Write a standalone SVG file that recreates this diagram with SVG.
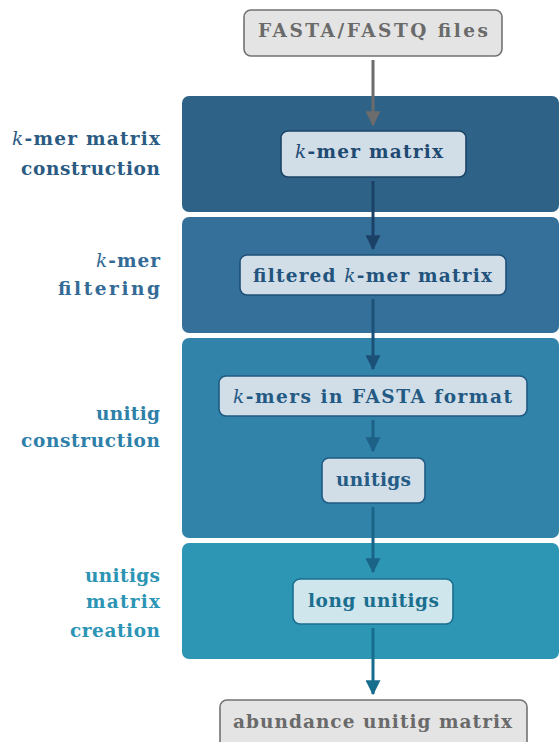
<svg xmlns="http://www.w3.org/2000/svg" width="559" height="742" viewBox="0 0 559 742">
  <style>
    text { font-family: "DejaVu Serif", "Liberation Serif", serif; font-weight: bold; font-size: 18.5px; }
    .k { font-style: italic; font-weight: normal; }
    .io rect { fill: #e4e4e4; stroke: #727272; stroke-width: 1.6; }
    .io text { fill: #6a6a6a; text-anchor: middle; }
    .box rect { fill: #d1dde7; stroke-width: 1.6; }
    .box text { text-anchor: middle; }
    .lbl { text-anchor: end; }
    .band { stroke: none; }
  </style>
  <defs>
    <marker id="ahGray" markerWidth="5" markerHeight="5" refX="4.6" refY="2.5" orient="auto" markerUnits="strokeWidth" viewBox="0 0 5 5">
      <path d="M0,0 L5,2.5 L0,5 Z" fill="#6c6c6c"/>
    </marker>
    <marker id="ah1" markerWidth="5" markerHeight="5" refX="4.6" refY="2.5" orient="auto" markerUnits="strokeWidth" viewBox="0 0 5 5">
      <path d="M0,0 L5,2.5 L0,5 Z" fill="#1b4266"/>
    </marker>
    <marker id="ah2" markerWidth="5" markerHeight="5" refX="4.6" refY="2.5" orient="auto" markerUnits="strokeWidth" viewBox="0 0 5 5">
      <path d="M0,0 L5,2.5 L0,5 Z" fill="#1c5177"/>
    </marker>
    <marker id="ah3" markerWidth="5" markerHeight="5" refX="4.6" refY="2.5" orient="auto" markerUnits="strokeWidth" viewBox="0 0 5 5">
      <path d="M0,0 L5,2.5 L0,5 Z" fill="#1d6187"/>
    </marker>
    <marker id="ah4" markerWidth="5" markerHeight="5" refX="4.6" refY="2.5" orient="auto" markerUnits="strokeWidth" viewBox="0 0 5 5">
      <path d="M0,0 L5,2.5 L0,5 Z" fill="#1a6488"/>
    </marker>
    <marker id="ah5" markerWidth="5" markerHeight="5" refX="4.6" refY="2.5" orient="auto" markerUnits="strokeWidth" viewBox="0 0 5 5">
      <path d="M0,0 L5,2.5 L0,5 Z" fill="#176d8d"/>
    </marker>
  </defs>

  <!-- stage bands -->
  <g id="stages">
    <rect class="band" x="182" y="96" width="377" height="116" rx="7" fill="#2e6286"/>
    <rect class="band" x="182" y="217" width="377" height="116" rx="7" fill="#35709a"/>
    <rect class="band" x="182" y="338" width="377" height="200" rx="7" fill="#3183aa"/>
    <rect class="band" x="182" y="543" width="377" height="116" rx="7" fill="#2d96b4"/>
  </g>

  <!-- stage labels -->
  <g id="stage-labels">
    <text class="lbl" x="160" y="145" fill="#2b5b82" textLength="148"><tspan class="k">k</tspan>-mer matrix</text>
    <text class="lbl" x="160" y="175" fill="#2b5b82" textLength="139">construction</text>
    <text class="lbl" x="160" y="267" fill="#346b96" textLength="64"><tspan class="k">k</tspan>-mer</text>
    <text class="lbl" x="160" y="295" fill="#346b96" textLength="102">filtering</text>
    <text class="lbl" x="160" y="420" fill="#2f80a9" textLength="64">unitig</text>
    <text class="lbl" x="160" y="447" fill="#2f80a9" textLength="139">construction</text>
    <text class="lbl" x="160" y="582" fill="#2c94b4" textLength="75">unitigs</text>
    <text class="lbl" x="160" y="608" fill="#2c94b4" textLength="74">matrix</text>
    <text class="lbl" x="160" y="637" fill="#2c94b4" textLength="90">creation</text>
  </g>

  <!-- connectors -->
  <g id="connectors" fill="none" stroke-width="3">
    <line x1="373" y1="60" x2="373" y2="125" stroke="#6c6c6c" marker-end="url(#ahGray)"/>
    <line x1="373" y1="181" x2="373" y2="249" stroke="#1b4266" marker-end="url(#ah1)"/>
    <line x1="373" y1="299" x2="373" y2="369" stroke="#1c5177" marker-end="url(#ah2)"/>
    <line x1="373" y1="420" x2="373" y2="451" stroke="#1d6187" marker-end="url(#ah3)"/>
    <line x1="373" y1="507" x2="373" y2="572" stroke="#1a6488" marker-end="url(#ah4)"/>
    <line x1="373" y1="628" x2="373" y2="694" stroke="#176d8d" marker-end="url(#ah5)"/>
  </g>

  <!-- nodes -->
  <g id="input" class="io">
    <rect x="244" y="10" width="258" height="46" rx="7"/>
    <text x="373" y="37" textLength="230">FASTA/FASTQ files</text>
  </g>
  <g id="kmer-matrix" class="box">
    <rect x="281" y="131" width="185" height="46" rx="7" stroke="#1b4467"/>
    <text x="369" y="158" fill="#1f4a72" textLength="148"><tspan class="k">k</tspan>-mer matrix</text>
  </g>
  <g id="filtered-matrix" class="box">
    <rect x="240" y="255" width="266" height="40" rx="7" stroke="#1d4f78"/>
    <text x="372.5" y="282" fill="#22537d" textLength="239">filtered <tspan class="k">k</tspan>-mer matrix</text>
  </g>
  <g id="kmers-fasta" class="box">
    <rect x="219" y="376" width="308" height="40" rx="7" stroke="#1f5a82"/>
    <text x="372.5" y="403" fill="#235a84" textLength="279"><tspan class="k">k</tspan>-mers in FASTA format</text>
  </g>
  <g id="unitigs" class="box">
    <rect x="322" y="458" width="103" height="45" rx="7" stroke="#1f5b83"/>
    <text x="373.5" y="486" fill="#245c86" textLength="75">unitigs</text>
  </g>
  <g id="long-unitigs" class="box">
    <rect x="293" y="579" width="160" height="45" rx="7" stroke="#1a6f8f" style="fill:#d0e6ed"/>
    <text x="373.5" y="607" fill="#1b6f8f" textLength="131">long unitigs</text>
  </g>
  <g id="output" class="io">
    <rect x="220" y="700" width="307" height="50" rx="7"/>
    <text x="372.5" y="728" textLength="279">abundance unitig matrix</text>
  </g>
</svg>
